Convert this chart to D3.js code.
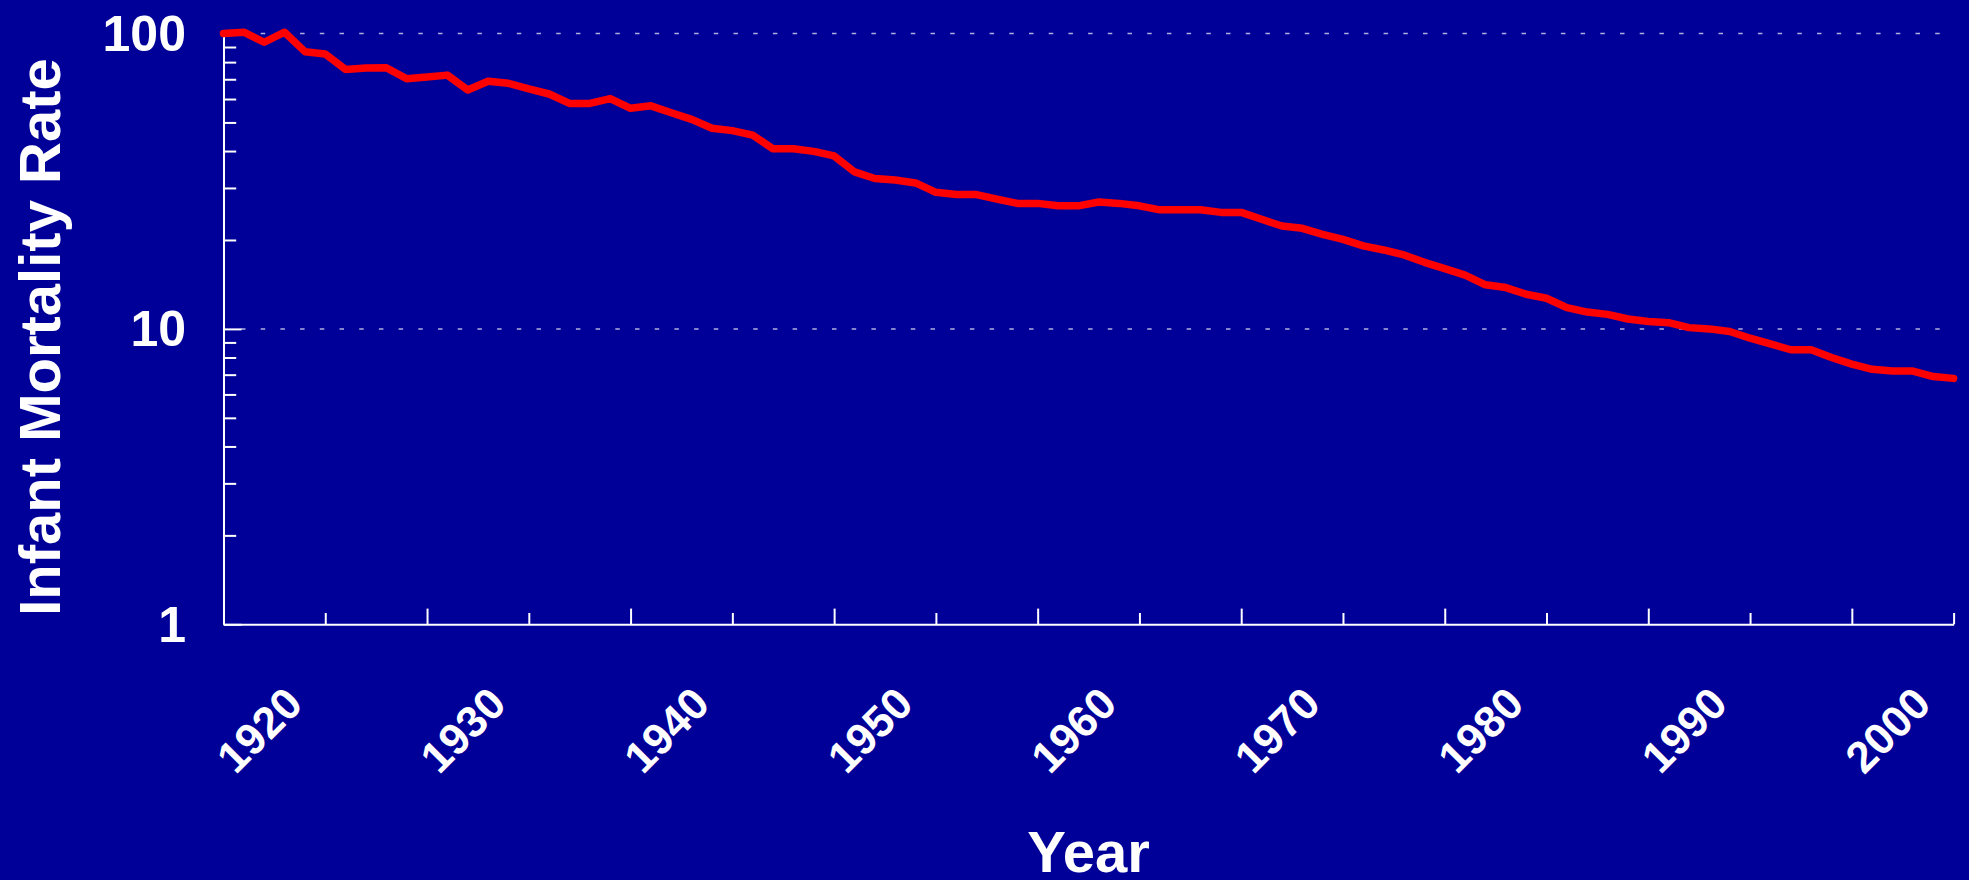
<!DOCTYPE html>
<html>
<head>
<meta charset="utf-8">
<script src="https://cdn.jsdelivr.net/npm/d3@7"></script>
<style>
  html, body { margin: 0; padding: 0; background: #000099; }
  svg { display: block; }
  text { font-family: "Liberation Sans", Arial, sans-serif; font-weight: bold; fill: #fff; }
</style>
</head>
<body>
<svg id="chart"></svg>
<script>
const years = [
  1915, 1916, 1917, 1918, 1919, 1920, 1921, 1922, 1923, 1924,
  1925, 1926, 1927, 1928, 1929, 1930, 1931, 1932, 1933, 1934,
  1935, 1936, 1937, 1938, 1939, 1940, 1941, 1942, 1943, 1944,
  1945, 1946, 1947, 1948, 1949, 1950, 1951, 1952, 1953, 1954,
  1955, 1956, 1957, 1958, 1959, 1960, 1961, 1962, 1963, 1964,
  1965, 1966, 1967, 1968, 1969, 1970, 1971, 1972, 1973, 1974,
  1975, 1976, 1977, 1978, 1979, 1980, 1981, 1982, 1983, 1984,
  1985, 1986, 1987, 1988, 1989, 1990, 1991, 1992, 1993, 1994,
  1995, 1996, 1997, 1998, 1999, 2000
];
const rates = [
  100, 101, 93.4, 101, 86.8, 85.2, 75.6, 76.4, 76.6, 70.3,
  71.2, 72.3, 64.4, 68.9, 67.8, 64.9, 62.4, 58.0, 58.0, 60.2,
  55.8, 56.9, 53.9, 51.2, 47.8, 46.9, 45.3, 40.7, 40.7, 39.9,
  38.5, 34.0, 32.3, 31.9, 31.2, 29.0, 28.5, 28.5, 27.5, 26.6,
  26.6, 26.1, 26.1, 26.9, 26.6, 26.1, 25.3, 25.3, 25.3, 24.8,
  24.8, 23.5, 22.3, 21.9, 20.9, 20.1, 19.1, 18.5, 17.8, 16.8,
  16.0, 15.2, 14.1, 13.8, 13.1, 12.7, 11.8, 11.4, 11.2, 10.8,
  10.6, 10.5, 10.1, 10.0, 9.8, 9.3, 8.9, 8.5, 8.5, 8.0,
  7.6, 7.3, 7.2, 7.2, 6.9, 6.8
];
const xLabelYears = [1920, 1930, 1940, 1950, 1960, 1970, 1980, 1990, 2000];
const xMidYears = [1925, 1935, 1945, 1955, 1965, 1975, 1985, 1995];
const yMajor = [1, 10, 100];
const yMinor = [2, 3, 4, 5, 6, 7, 8, 9, 20, 30, 40, 50, 60, 70, 80, 90];
const gridValues = [10, 100];

const width = 1969;
const height = 880;
const plotLeft = 223.5, plotRight = 1953.6, plotTop = 33.5, plotBottom = 624.3;

const svg = d3.select("#chart")
  .attr("width", width)
  .attr("height", height);

svg.append("rect")
  .attr("width", width)
  .attr("height", height)
  .attr("fill", "#000099");

const x = d3.scaleLinear().domain([1915, 2000]).range([plotLeft, plotRight]);
const y = d3.scaleLog().domain([1, 100]).range([plotBottom, plotTop]);

// dotted gridlines
svg.selectAll(".grid")
  .data(gridValues)
  .enter().append("line")
  .attr("class", "grid")
  .attr("x1", plotLeft + 17.5)
  .attr("x2", 1941)
  .attr("y1", d => y(d))
  .attr("y2", d => y(d))
  .attr("stroke", "#aeaee0")
  .attr("stroke-width", 1.5)
  .attr("stroke-dasharray", "4.5,15.2");

// x axis: labelled ticks are short, in-between ticks are taller
const xAxis = svg.append("g")
  .attr("transform", `translate(0,${plotBottom})`)
  .call(d3.axisBottom(x)
    .tickValues(xLabelYears)
    .tickSize(-11.3)
    .tickSizeOuter(0)
    .tickFormat(d3.format("d")));

xAxis.selectAll("text")
  .attr("x", null)
  .attr("y", null)
  .attr("dy", null)
  .attr("text-anchor", "end")
  .attr("transform", "translate(-21,82) rotate(-45)")
  .style("font-size", "44px");

svg.append("g")
  .attr("transform", `translate(0,${plotBottom})`)
  .call(d3.axisBottom(x)
    .tickValues(xMidYears)
    .tickSize(-15.7)
    .tickSizeOuter(0)
    .tickFormat(""))
  .select(".domain").remove();

// y axis (log)
const yAxis = svg.append("g")
  .attr("transform", `translate(${plotLeft},0)`)
  .call(d3.axisLeft(y)
    .tickValues(yMajor)
    .tickSize(-18)
    .tickSizeOuter(0)
    .tickPadding(37.5)
    .tickFormat(d3.format("d")));

yAxis.selectAll("text")
  .attr("dy", "0.34em")
  .style("font-size", "50px");

svg.append("g")
  .attr("transform", `translate(${plotLeft},0)`)
  .call(d3.axisLeft(y)
    .tickValues(yMinor)
    .tickSize(-12.7)
    .tickSizeOuter(0)
    .tickFormat(""))
  .select(".domain").remove();

svg.selectAll(".domain, .tick line")
  .attr("stroke", "#fff")
  .attr("stroke-width", 2);

// axis titles
svg.append("text")
  .attr("x", (plotLeft + plotRight) / 2)
  .attr("y", 872)
  .attr("text-anchor", "middle")
  .style("font-size", "58px")
  .text("Year");

svg.append("text")
  .attr("transform", "translate(59.5,337) rotate(-90)")
  .attr("text-anchor", "middle")
  .style("font-size", "58px")
  .text("Infant Mortality Rate");

// data line
const line = d3.line()
  .x((d, i) => x(years[i]))
  .y(d => y(d));

svg.append("path")
  .datum(rates)
  .attr("d", line)
  .attr("fill", "none")
  .attr("stroke", "#ff0000")
  .attr("stroke-width", 7.5)
  .attr("stroke-linejoin", "round")
  .attr("stroke-linecap", "round");
</script>
</body>
</html>
